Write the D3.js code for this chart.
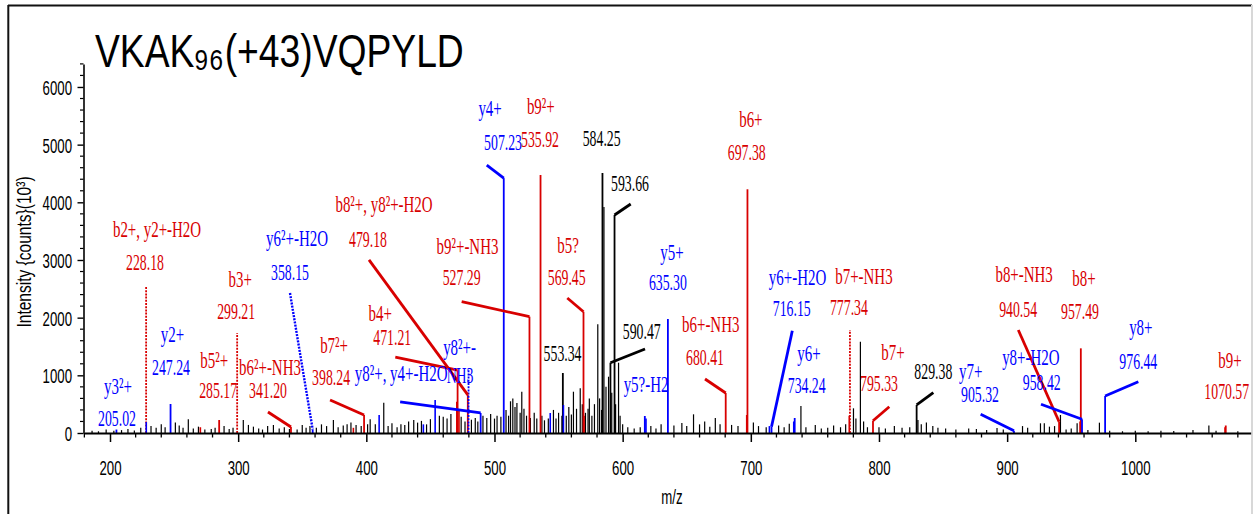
<!DOCTYPE html>
<html><head><meta charset="utf-8">
<script src="https://cdn.jsdelivr.net/npm/d3@7"></script>
<style>
html,body{margin:0;padding:0;background:#fff;}
svg{display:block;}
</style></head><body>
<svg id="chart" width="1253" height="514"></svg>
<script>
// ---------------- data ----------------
const titleMain = "VKAK";
const titleSub = "96";
const titleRest = "(+43)VQPYLD";
const xLabel = "m/z";
const yLabel = "Intensity {counts}(10³)";
const xTicks = [200,300,400,500,600,700,800,900,1000];
const yTicks = [0,1000,2000,3000,4000,5000,6000];

// annotated peaks
const annName = ["y3²+","b2+, y2+-H2O","y2+","b5²+","b3+","b6²+-NH3","y6²+-H2O","b7²+","b4+","b8²+, y8²+-H2O",
  "y8²+-","y8²+, y4+-H2O","y4+","b9²+-NH3","b9²+","","b5?","","","",
  "y5?-H2","y5+","b6+-NH3","b6+","y6+-H2O","y6+","b7+-NH3","b7+","","y7+",
  "b8+-NH3","b8+","y8+-H2O","y8+","b9+"];
const annMz = [205.02,228.18,247.24,285.17,299.21,341.20,358.15,398.24,471.21,479.18,
  479.75,489.2,507.23,527.29,535.92,553.34,569.45,584.25,593.66,590.47,
  617.3,635.30,680.41,697.38,716.15,734.24,777.34,795.33,829.38,905.32,
  940.54,957.49,958.42,976.44,1070.57];
const annInt = [60,2532,503,225,1734,104,60,312,1090,660,
  1090,347,4420,2017,4474,1040,2103,4508,3780,1219,
  295,1977,694,4226,109,260,1786,213,486,40,
  196,1468,238,642,130];
const annValue = ["205.02","228.18","247.24","285.17","299.21","341.20","358.15","398.24","471.21","479.18",
  "NH3","","507.23","527.29","535.92","553.34","569.45","584.25","593.66","590.47",
  "","635.30","680.41","697.38","716.15","734.24","777.34","795.33","829.38","905.32",
  "940.54","957.49","958.42","976.44","1070.57"];

// unassigned (black) peaks
const otherMz = [186,191,197,203,209,214,219,224,232,236,240,243,251,254,257,261.1,265,269,274,279,282,289,293,296,304,308,311.9,316,319,323,327.5,332,336,340,346,350,353,356,361,365,369,374.3,378,382,385,388,392,396,401,403,407,413.6,417,420,424,427,430,433,437,440,443,447,450,457,460,463,466,474,477,482,485,487,491,494,497,500,502,505,509,511,512.5,514.3,516,517.5,520,521.3,523,525,528,531,533,537,539,542,546,548,550,552.6,556,558,560,561.6,564,566.9,568.5,571,573,574,576,578,580.6,582,583.5,585.4,587,589,591.5,594.5,596.8,598,600,604,609,613.7,622,626,630,640,646.2,650,655.3,660,664,668,672.3,676,685,690,702,706,712,721.7,726,730,739.1,743,750.3,755,760,764.6,770,774,780.1,782,785.5,788,791,800,805,812,818,824,830.4,833,837,842,846,852,860,870,876,884,892.1,897,912,916,926,929,933,937,941.6,946,950,954.6,963,972,980,990,1000,1010,1020,1030,1045,1057.4,1063,1080];
const otherInt = [40,30,60,40,50,70,45,90,120,90,150,100,180,130,90,237,80,110,60,70,90,120,70,90,225,140,110,80,60,120,139,80,100,70,60,140,90,120,90,150,120,225,100,130,150,180,140,120,150,237,150,525,120,170,100,150,140,200,225,180,210,150,240,300,280,250,330,280,200,230,260,200,300,260,330,250,300,280,400,300,550,600,450,520,350,716,420,300,260,350,250,300,220,250,400,250,350,300,300,450,320,716,420,775,500,350,420,600,300,500,1885,600,400,3920,800,976,700,500,1219,300,150,100,80,100,120,80,150,130,173,120,324,150,200,110,260,150,140,120,180,120,100,130,100,160,468,100,140,80,90,130,100,150,428,250,1583,200,100,100,80,120,90,100,225,150,180,120,90,80,60,80,70,50,87,60,120,90,168,168,110,120,312,60,80,168,50,179,40,30,40,30,40,35,50,130,40,30];

// small matched peaks without labels
const matchMz = [228.3,410.0,444.5,453.7,543.5,553.8,618.2,714.5,733.5,270.5,389.9,470.6,472.3,569.9,696.8,776.8,956.9,1070.0];
const matchInt = [190,312,150,572,347,485,250,120,200,100,90,543,400,300,312,300,200,100];
const matchIon = ["y","y","y","y","y","y","y","y","y","b","b","b","b","b","b","b","b","b"];

// ---------------- layout (pixel offsets from peak top) ----------------
const annLayout = [
 {n:[1.6,-43.5],v:[0.6,-11.5]},
 {n:[10.9,-57],v:[-1.1,-24]},
 {n:[2,-69],v:[0.5,-36]},
 {n:[-5,-60],v:[-1,-30]},
 {n:[3,-53],v:[-1,-21]},
 {n:[-21,-60],v:[-23,-37],l:[-23,-15]},
 {n:[-15.7,-191.5],v:[-22.7,-157.5],l:[-22.7,-136.5]},
 {n:[-30,-70],v:[-33,-38],l:[-34,-15]},
 {n:[-77.3,-57],v:[-65.3,-33],l:[-62.3,-13]},
 {n:[-83.8,-190],v:[-99.8,-155],l:[-98.8,-135]},
 {n:[-9,-23],v:[-8.5,5]},
 {n:[-79.5,-39],l:[-80.5,-11]},
 {n:[-13.7,-70],v:[-0.7,-36],l:[-17,-13]},
 {n:[-62,-70],v:[-67.8,-38.7],l:[-67.8,-15]},
 {n:[0.3,-68],v:[-0.5,-35]},
 {v:[-0.3,-20]},
 {n:[-15.5,-66.7],v:[-16.8,-34.7],l:[-16.2,-13.7]},
 {v:[-0.8,-35]},
 {v:[15.5,-32],l:[16.2,-11]},
 {v:[31.3,-31],l:[34.6,-13.7]},
 {n:[1.2,-31]},
 {n:[4,-66],v:[0,-36]},
 {n:[-15,-68],v:[-20.7,-35],l:[-20.7,-14]},
 {n:[3.4,-69.3],v:[-0.7,-36.3]},
 {n:[26,-149.7],v:[20.2,-118.7],l:[20.8,-96]},
 {n:[14.3,-65],v:[12,-33]},
 {n:[14,-53],v:[-1,-22]},
 {n:[20,-68.7],v:[6,-37.7],l:[16.3,-14]},
 {v:[16.7,-33.3],l:[16.7,-12.3]},
 {n:[-43.2,-59],v:[-34,-35.7],l:[-33.3,-16.4]},
 {n:[-35,-146.7],v:[-41,-111.7],l:[-40.8,-91.7]},
 {n:[3.2,-70.3],v:[-0.8,-36.6]},
 {n:[-51.2,-61.3],v:[-40.3,-36.3],l:[-41,-15]},
 {n:[35.7,-68],v:[33.2,-34.3],l:[33.2,-14.3]},
 {n:[4.3,-65.5],v:[1,-33.8]}
];
const dottedPeaks = new Set([1,4,10,26]);
const dottedLeaders = new Set([6]);

// ---------------- drawing ----------------
const RED = "#d80000", BLUE = "#0000ff", BLACK = "#000";
const colorOf = name => name.startsWith("b") ? RED : name.startsWith("y") ? BLUE : BLACK;
const svg = d3.select("#chart");

const x = d3.scaleLinear().domain([180,1090]).range([84.37,1250.65]);
const y = d3.scaleLinear().domain([0,6400]).range([433,63.9]);

// frame
svg.append("line").attr("x1",8).attr("x2",1252).attr("y1",5.5).attr("y2",5.5).attr("stroke","#111").attr("stroke-width",2);
svg.append("line").attr("x1",8.3).attr("x2",8.3).attr("y1",5).attr("y2",514).attr("stroke","#111").attr("stroke-width",2);
svg.append("line").attr("x1",1252).attr("x2",1252).attr("y1",5).attr("y2",514).attr("stroke","#d8d8d8").attr("stroke-width",2);

// title
const t = svg.append("text").attr("transform","translate(95,67) scale(0.81,1)")
  .attr("font-family","Liberation Sans, Arial, sans-serif").attr("font-size",46).attr("fill","#000");
t.append("tspan").text(titleMain);
t.append("tspan").attr("font-size",30).attr("letter-spacing",2).attr("dy",3).text(titleSub);
t.append("tspan").attr("dy",-3).text(titleRest);

// peaks
const peaks = svg.append("g");
peaks.selectAll("line.o").data(d3.zip(otherMz,otherInt)).join("line").attr("class","o")
  .attr("x1",d=>x(d[0])).attr("x2",d=>x(d[0])).attr("y1",y(0)).attr("y2",d=>y(d[1]))
  .attr("stroke",BLACK).attr("stroke-width",1.2);

const ann = annMz.map((m,i)=>({i,mz:m,int:annInt[i],name:annName[i],val:annValue[i],lay:annLayout[i],col:colorOf(annName[i])}));
peaks.selectAll("line.a").data(ann).join("line").attr("class","a")
  .attr("x1",d=>x(d.mz)).attr("x2",d=>x(d.mz)).attr("y1",y(0)).attr("y2",d=>y(d.int))
  .attr("stroke",d=>d.col).attr("stroke-width",1.8)
  .attr("stroke-dasharray",d=>dottedPeaks.has(d.i)?"2,1.2":null);

peaks.selectAll("line.m").data(d3.zip(matchMz,matchInt,matchIon)).join("line").attr("class","m")
  .attr("x1",d=>x(d[0])).attr("x2",d=>x(d[0])).attr("y1",y(0)).attr("y2",d=>y(d[1]))
  .attr("stroke",d=>colorOf(d[2])).attr("stroke-width",1.6);

// leaders
svg.append("g").selectAll("line").data(ann.filter(d=>d.lay.l)).join("line")
  .attr("x1",d=>x(d.mz)+d.lay.l[0]).attr("y1",d=>y(d.int)+d.lay.l[1])
  .attr("x2",d=>x(d.mz)).attr("y2",d=>y(d.int))
  .attr("stroke",d=>d.col).attr("stroke-width",d=>dottedLeaders.has(d.i)?2.4:2.8)
  .attr("stroke-dasharray",d=>dottedLeaders.has(d.i)?"2,1.2":null);

// labels
const lab = svg.append("g").attr("font-family","Liberation Serif, Times New Roman, serif").attr("font-size",23).attr("text-anchor","middle");
ann.forEach(d=>{
  const px = x(d.mz), py = y(d.int);
  if (d.lay.n && d.name) lab.append("text").attr("fill",d.col)
    .attr("transform",`translate(${px+d.lay.n[0]},${py+d.lay.n[1]+7.5}) scale(0.65,1)`).text(d.name);
  if (d.lay.v && d.val) lab.append("text").attr("fill",d.col)
    .attr("transform",`translate(${px+d.lay.v[0]},${py+d.lay.v[1]+7.5}) scale(0.6,1)`).text(d.val);
});

// axes
const sx = 0.63;
const xg = svg.append("g").attr("transform","translate(0,433)")
  .call(d3.axisBottom(x).tickValues(xTicks).tickSize(9).tickSizeOuter(0).tickFormat(d3.format("d")));
xg.select(".domain").attr("stroke","#000").attr("stroke-width",2);
xg.selectAll(".tick line").attr("stroke-width",1.5);
xg.selectAll(".tick text").attr("font-family","Liberation Sans, Arial, sans-serif").attr("font-size",21)
  .attr("y",42).attr("dy",null).attr("transform",`scale(${sx},1)`).attr("fill","#000");
xg.selectAll("line.minor").data(d3.range(180,1090,20).filter(v=>v%100!==0)).join("line").attr("class","minor")
  .attr("x1",d=>x(d)).attr("x2",d=>x(d)).attr("y1",0).attr("y2",4.5).attr("stroke","#000").attr("stroke-width",1.3);

const yg = svg.append("g").attr("transform","translate(83.5,0)")
  .call(d3.axisLeft(y).tickValues(yTicks).tickSize(6).tickSizeOuter(0).tickFormat(d3.format("d")));
yg.select(".domain").attr("stroke","#000").attr("stroke-width",1.6);
yg.selectAll(".tick line").attr("stroke-width",1.4);
yg.selectAll(".tick text").attr("font-family","Liberation Sans, Arial, sans-serif").attr("font-size",21)
  .attr("x",-11.5/sx).attr("dy","0.35em").attr("transform",`scale(${sx},1)`).attr("fill","#000");
yg.selectAll("line.minor").data(d3.range(0,6401,200).filter(v=>v%1000!==0)).join("line").attr("class","minor")
  .attr("y1",d=>y(d)).attr("y2",d=>y(d)).attr("x1",-3.5).attr("x2",0).attr("stroke","#000").attr("stroke-width",1.2);

// axis titles
svg.append("text").attr("transform","translate(672,504) scale(0.63,1)").attr("text-anchor","middle")
  .attr("font-family","Liberation Sans, Arial, sans-serif").attr("font-size",21).text(xLabel);
svg.append("text").attr("transform","translate(31,252) rotate(-90) scale(0.74,1)").attr("text-anchor","middle")
  .attr("font-family","Liberation Sans, Arial, sans-serif").attr("font-size",21).text(yLabel);
</script>
</body></html>
